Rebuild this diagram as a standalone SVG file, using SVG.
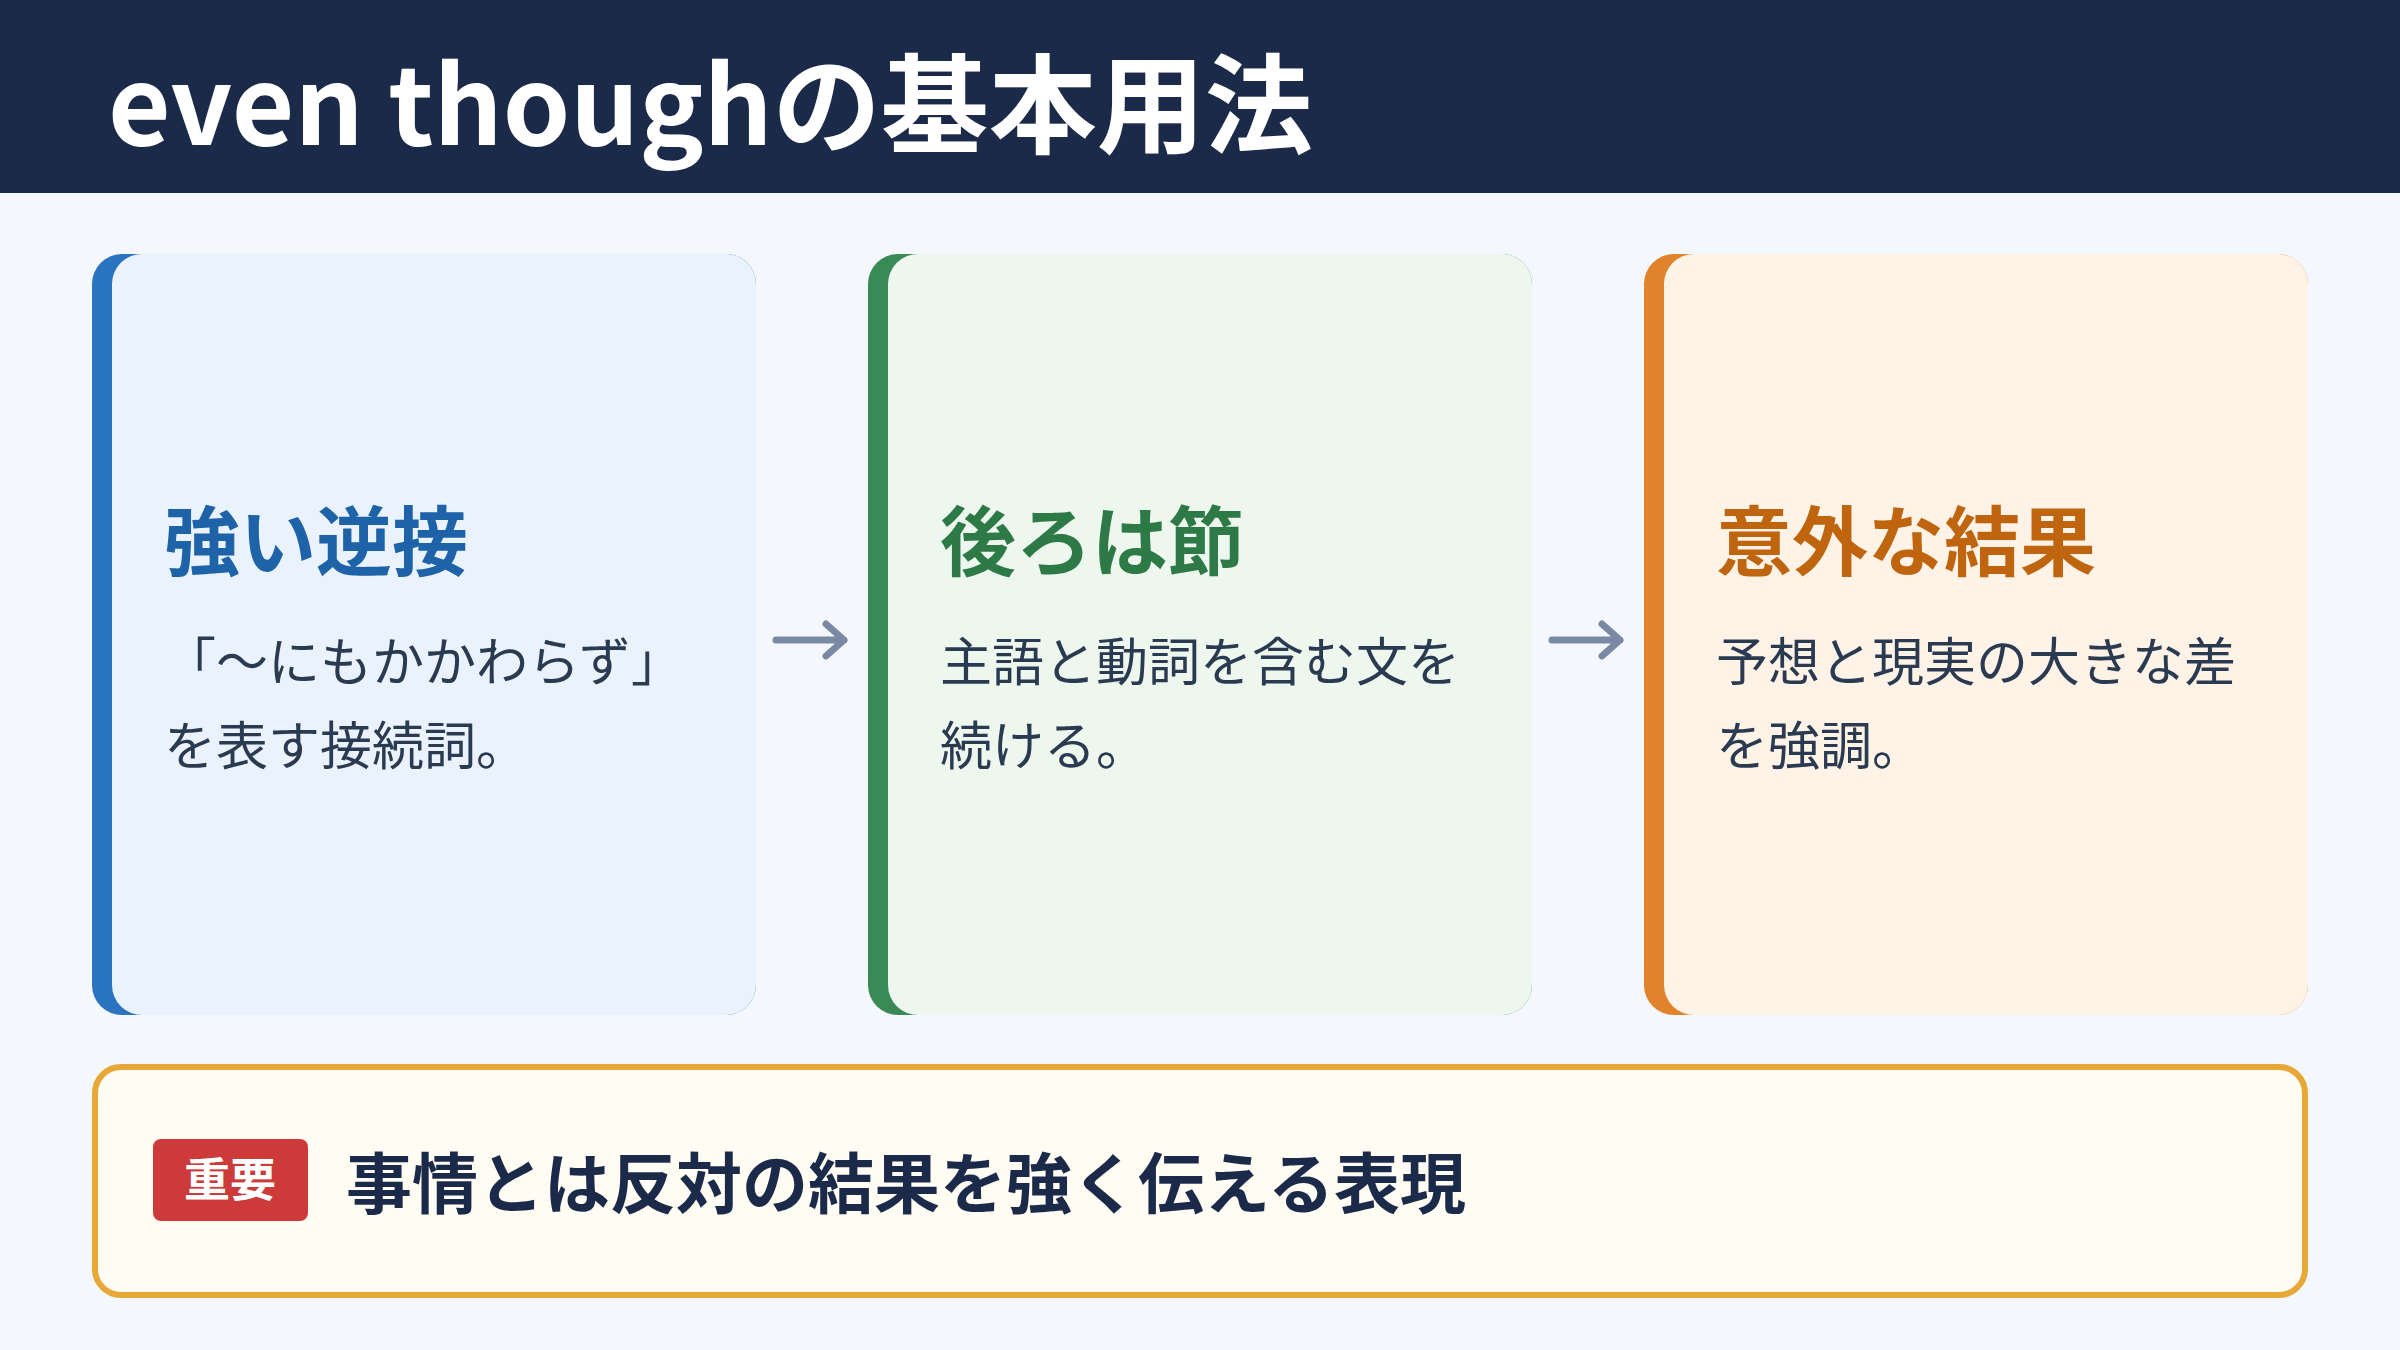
<svg xmlns="http://www.w3.org/2000/svg" width="2400" height="1350" viewBox="0 0 2400 1350">
<style>
text{font-family:"Noto Sans CJK JP","Noto Sans",sans-serif}
.t{font-size:76px;font-weight:700}
.b{font-size:52px;fill:#2a3a50}
.ar{stroke:#7a8aa6;stroke-width:7;fill:none;stroke-linecap:round;stroke-linejoin:round}
</style>
<rect width="2400" height="1350" fill="#f4f7fb"/>
<rect width="2400" height="193" fill="#1c2a4a"/>
<text x="108" y="145" font-size="108" font-weight="700" fill="#fff">even thoughの基本用法</text>
<g id="card1">
<rect x="92" y="254" width="664" height="761" rx="30" fill="#2a73c0"/>
<rect x="112" y="254" width="644" height="761" rx="30" fill="#eaf2fd"/>
<text x="164" y="570" class="t" fill="#1e63a8">強い逆接</text>
<text x="164" y="681" class="b">「〜にもかかわらず」</text>
<text x="164" y="765" class="b">を表す接続詞。</text>
</g>
<g id="card2">
<rect x="868" y="254" width="664" height="761" rx="30" fill="#3a8a55"/>
<rect x="888" y="254" width="644" height="761" rx="30" fill="#edf7ee"/>
<text x="940" y="570" class="t" fill="#2e7a47">後ろは節</text>
<text x="940" y="681" class="b">主語と動詞を含む文を</text>
<text x="940" y="765" class="b">続ける。</text>
</g>
<g id="card3">
<rect x="1644" y="254" width="664" height="761" rx="30" fill="#e0832a"/>
<rect x="1664" y="254" width="644" height="761" rx="30" fill="#fef3e6"/>
<text x="1716" y="570" class="t" fill="#c0650f">意外な結果</text>
<text x="1716" y="681" class="b">予想と現実の大きな差</text>
<text x="1716" y="765" class="b">を強調。</text>
</g>
<g id="connectors">
<path class="ar" d="M776 640H844M826 624L844 640L826 656"/>
<path class="ar" d="M1552 640H1620M1602 624L1620 640L1602 656"/>
</g>
<g id="note">
<rect x="95" y="1067" width="2210" height="228" rx="26" fill="#fffcf3" stroke="#e8a838" stroke-width="6"/>
<rect x="153" y="1139" width="155" height="82" rx="8" fill="#cc3a3a"/>
<text x="230" y="1196" font-size="46" font-weight="700" fill="#fff" text-anchor="middle">重要</text>
<text x="346" y="1208" font-size="66" font-weight="700" fill="#1c2a4a">事情とは反対の結果を強く伝える表現</text>
</g>
</svg>
